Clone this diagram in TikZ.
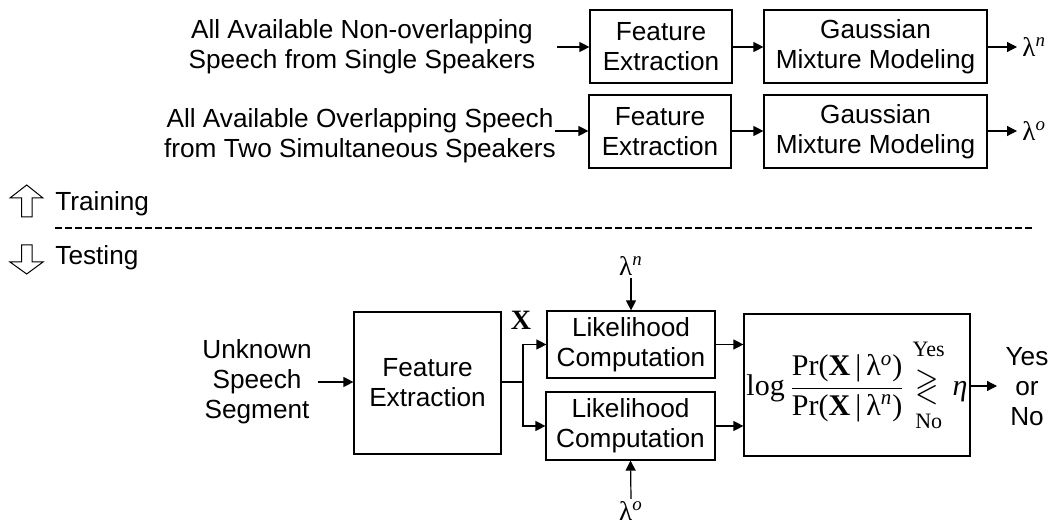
\documentclass[tikz,border=0pt]{standalone}
\usepackage{amsmath}
\usepackage{amssymb}
\usepackage{graphicx}
\usepackage{fontspec}
\setmainfont{Liberation Sans}
\newfontfamily\tms{Liberation Serif}
\usetikzlibrary{arrows.meta}

% model symbol: upright lambda with an italic superscript
\newcommand\lamsym[1]{{\tms λ\textsuperscript{\itshape #1}}}

\tikzset{
  box/.style={draw, line width=0.6pt, align=center, inner sep=0pt},
  arr/.style={line width=0.6pt, -{Triangle[length=5pt,width=5pt]}},
  txt/.style={align=center, inner sep=0pt, font=\fontsize{13.1}{15}\selectfont},
  sym/.style={inner sep=1pt, font=\fontsize{13.5}{15}\selectfont},
  hollow/.style={draw, line width=0.5pt, fill=white}
}

\begin{document}
\begin{tikzpicture}[x=0.5pt, y=-0.5pt, font=\fontsize{13.1}{15}\selectfont]
\useasboundingbox (0,0) rectangle (1059,528);

% ---------- training: single-speaker model ----------
\node[txt] (src1) at (362,47) {All Available Non-overlapping\\Speech from Single Speakers};
\coordinate (in1) at (557,47);
\node[box, minimum width=71pt, minimum height=36.5pt] (fe1) at (661,46.5) {Feature\\Extraction};
\node[box, minimum width=111.5pt, minimum height=36.5pt] (gm1) at (875.5,46.5) {Gaussian\\Mixture Modeling};
\coordinate (out1) at (1017,47);
\node[sym, anchor=west] (lamn) at (1020,47) {\lamsym{n}};
\draw[arr] (in1) -- (in1 -| fe1.west);
\draw[arr] (fe1.east |- in1) -- (gm1.west |- in1);
\draw[arr] (gm1.east |- out1) -- (out1);

% ---------- training: overlapping-speech model ----------
\node[txt] (src2) at (360,136) {All Available Overlapping Speech\\from Two Simultaneous Speakers};
\coordinate (in2) at (555,131);
\node[box, minimum width=71pt, minimum height=36.5pt] (fe2) at (660,131.5) {Feature\\Extraction};
\node[box, minimum width=111.5pt, minimum height=36.5pt] (gm2) at (875.5,131.5) {Gaussian\\Mixture Modeling};
\coordinate (out2) at (1017,131);
\node[sym, anchor=west] (lamo) at (1020,131) {\lamsym{o}};
\draw[arr] (in2) -- (in2 -| fe2.west);
\draw[arr] (fe2.east |- in2) -- (gm2.west |- in2);
\draw[arr] (gm2.east |- out2) -- (out2);

% ---------- phase separator ----------
\draw[hollow] (26.7,185) -- (43,198) -- (32,198) -- (32,217) -- (21.5,217) -- (21.5,198) -- (10,198) -- cycle;
\node[txt, anchor=west] (train) at (55,204) {Training};
\draw[line width=1pt, dash pattern=on 3.5pt off 1.5pt] (55,228) -- (1033,228);
\draw[hollow] (21.5,245) -- (32,245) -- (32,262) -- (43,262) -- (26.7,274) -- (10,262) -- (21.5,262) -- cycle;
\node[txt, anchor=west] (test) at (55,258) {Testing};

% ---------- testing ----------
\node[txt] (unk) at (257,382) {Unknown\\Speech\\Segment};
\coordinate (in3) at (318,382);
\node[box, minimum width=73.5pt, minimum height=71pt] (fe3) at (427.5,383) {Feature\\Extraction};
\coordinate (split) at (523,382);
\node[inner sep=0pt, font=\fontsize{14}{15}\selectfont\tms\bfseries] (xlab) at (521,320) {X};

\node[box, minimum width=84pt, minimum height=33.5pt] (lc1) at (631,344.5) {Likelihood\\Computation};
\node[box, minimum width=84.5pt, minimum height=34pt] (lc2) at (630.5,426) {Likelihood\\Computation};
\node[sym] (ln) at (631,266) {\lamsym{n}};
\node[sym] (lo) at (631,511) {\lamsym{o}};

\node[box, minimum width=113pt, minimum height=71pt] (dec) at (857,385)
  {\fontsize{15}{17}\selectfont\tms
   $\hbox{log}\,\dfrac{\hbox{Pr(\textbf{X}\,|\,λ\textsuperscript{\itshape o})}}{\hbox{Pr(\textbf{X}\,|\,λ\textsuperscript{\itshape n})}}
   \mathrel{\mathop{\scalebox{1}[1.25]{$\gtrless$}}\limits^{\raisebox{4pt}{\fontsize{11}{11}\selectfont Yes}}_{\raisebox{-4pt}{\fontsize{11}{11}\selectfont No}}}
   \hbox{\itshape η}$};
\coordinate (out3) at (997,386);
\node[txt] (res) at (1027,387) {Yes\\or\\No};

\draw[arr] (in3) -- (in3 -| fe3.west);
\draw[line width=0.6pt] (fe3.east |- split) -- (split);
\draw[arr] (split) |- (lc1.west);
\draw[arr] (split) |- (lc2.west);
\draw[arr] (ln.south) -- (lc1.north);
\draw[arr] (lo.north) -- (lc2.south);
\draw[arr] (lc1.east) -- (lc1.east -| dec.west);
\draw[arr] (lc2.east) -- (lc2.east -| dec.west);
\draw[arr] (dec.east |- out3) -- (out3);
\end{tikzpicture}
\end{document}
